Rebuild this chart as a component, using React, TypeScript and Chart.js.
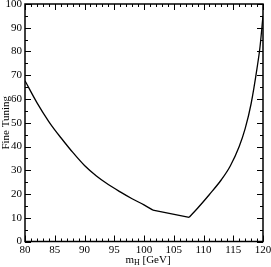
import React, { useEffect, useRef } from "react";
import { Chart, registerables } from "chart.js";

Chart.register(...registerables);

// left branch (smooth)
const leftMass = [80, 82, 84, 85, 86, 88, 90, 92, 94, 96, 98, 100, 101.5];
const leftFT = [67.7, 58.5, 50.5, 47, 43.8, 37.6, 32, 27.6, 24, 20.9, 18, 15.4, 13.2];
// middle straight segment
const midMass = [101.5, 107.6];
const midFT = [13.2, 10.2];
// right branch (smooth)
const rightMass = [107.6, 109, 111, 113, 114.5, 116, 117, 118, 119, 119.5, 120];
const rightFT = [10.2, 14, 19.8, 26, 31.8, 40, 47.5, 58, 73, 82, 95];

const xTicks = [80, 85, 90, 95, 100, 105, 110, 115, 120];
const yTicks = [0, 10, 20, 30, 40, 50, 60, 70, 80, 90, 100];
const yAxisTitle = "Fine Tuning";
const xTitleMain = "m";
const xTitleSub = "H";
const xTitleUnit = " [GeV]";

const FONT = "'Liberation Serif', 'DejaVu Serif', serif";

const framePlugin = {
  id: "frame",
  afterDraw(chart: any) {
    const { ctx, chartArea, scales } = chart;
    const xs = scales.x;
    const ys = scales.y;
    ctx.save();
    ctx.strokeStyle = "#000";
    ctx.lineWidth = 1.5;
    ctx.strokeRect(chartArea.left, chartArea.top, chartArea.right - chartArea.left, chartArea.bottom - chartArea.top);
    ctx.lineWidth = 1;
    for (let v = 80; v <= 120; v += 1) {
      const px = Math.round(xs.getPixelForValue(v)) + 0.5;
      const len = v % 5 === 0 ? 6 : 3;
      ctx.beginPath();
      ctx.moveTo(px, chartArea.bottom);
      ctx.lineTo(px, chartArea.bottom - len);
      ctx.moveTo(px, chartArea.top);
      ctx.lineTo(px, chartArea.top + len);
      ctx.stroke();
    }
    for (let v = 0; v <= 100; v += 5) {
      const py = Math.round(ys.getPixelForValue(v)) + 0.5;
      const len = v % 10 === 0 ? 6 : 3;
      ctx.beginPath();
      ctx.moveTo(chartArea.left, py);
      ctx.lineTo(chartArea.left + len, py);
      ctx.moveTo(chartArea.right, py);
      ctx.lineTo(chartArea.right - len, py);
      ctx.stroke();
    }
    ctx.fillStyle = "#000";
    ctx.textBaseline = "alphabetic";
    ctx.font = `11px ${FONT}`;
    const mw = ctx.measureText(xTitleMain).width;
    ctx.font = `8px ${FONT}`;
    const sw = ctx.measureText(xTitleSub).width;
    ctx.font = `11px ${FONT}`;
    const uw = ctx.measureText(xTitleUnit).width;
    const total = mw + sw + uw;
    const cx = (chartArea.left + chartArea.right) / 2 + 4;
    let x0 = cx - total / 2;
    const by = 262.5;
    ctx.textAlign = "left";
    ctx.fillText(xTitleMain, x0, by);
    x0 += mw;
    ctx.font = `8px ${FONT}`;
    ctx.fillText(xTitleSub, x0, by + 2.5);
    x0 += sw;
    ctx.font = `11px ${FONT}`;
    ctx.fillText(xTitleUnit, x0, by);
    ctx.save();
    ctx.translate(6, (chartArea.top + chartArea.bottom) / 2);
    ctx.rotate(-Math.PI / 2);
    ctx.textAlign = "center";
    ctx.textBaseline = "middle";
    ctx.font = `11px ${FONT}`;
    ctx.fillText(yAxisTitle, 0, 0);
    ctx.restore();
    ctx.restore();
  },
};

const lineStyle = {
  borderColor: "#000",
  borderWidth: 1.3,
  pointRadius: 0,
  fill: false,
};

export default function App() {
  const ref = useRef<HTMLCanvasElement>(null);
  useEffect(() => {
    if (!ref.current) return;
    const chart = new Chart(ref.current, {
      type: "line",
      data: {
        datasets: [
          {
            ...lineStyle,
            data: leftMass.map((m, i) => ({ x: m, y: leftFT[i] })),
            cubicInterpolationMode: "monotone",
          },
          {
            ...lineStyle,
            data: midMass.map((m, i) => ({ x: m, y: midFT[i] })),
            tension: 0,
          },
          {
            ...lineStyle,
            data: rightMass.map((m, i) => ({ x: m, y: rightFT[i] })),
            cubicInterpolationMode: "monotone",
          },
        ],
      },
      options: {
        animation: false,
        responsive: false,
        devicePixelRatio: 1,
        layout: { padding: { left: 0, top: 4, right: 8, bottom: 0 } },
        plugins: { legend: { display: false }, tooltip: { enabled: false } },
        scales: {
          x: {
            type: "linear",
            min: 80,
            max: 120,
            afterBuildTicks: (s: any) => {
              s.ticks = xTicks.map((v) => ({ value: v }));
            },
            afterFit: (s: any) => {
              s.height = 25.5;
              s.paddingLeft = 0;
              s.paddingRight = 0;
            },
            grid: { display: false, drawTicks: false },
            border: { display: false },
            ticks: {
              color: "#000",
              padding: 2,
              maxRotation: 0,
              autoSkip: false,
              font: { family: FONT, size: 11 },
            },
          },
          y: {
            type: "linear",
            min: 0,
            max: 100,
            afterBuildTicks: (s: any) => {
              s.ticks = yTicks.map((v) => ({ value: v }));
            },
            afterFit: (s: any) => {
              s.width = 25;
              s.paddingTop = 0;
              s.paddingBottom = 0;
            },
            grid: { display: false, drawTicks: false },
            border: { display: false },
            ticks: {
              color: "#000",
              padding: 3,
              autoSkip: false,
              font: { family: FONT, size: 11 },
            },
          },
        },
      },
      plugins: [framePlugin],
    });
    return () => chart.destroy();
  }, []);
  return (
    <div style={{ position: "fixed", left: 0, top: 0, width: 271, height: 267, background: "#fff" }}>
      <canvas ref={ref} width={271} height={267} style={{ width: 271, height: 267, display: "block" }} />
    </div>
  );
}
